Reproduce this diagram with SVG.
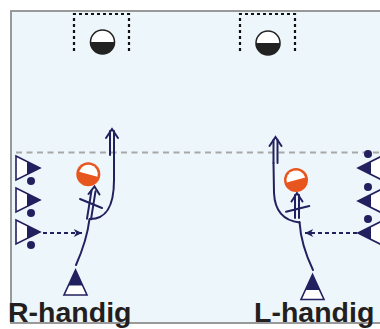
<svg xmlns="http://www.w3.org/2000/svg" xmlns:xlink="http://www.w3.org/1999/xlink" width="380" height="329" viewBox="0 0 380 329">
<style>
.field{fill:#edf6fa;stroke:#999999;stroke-width:2}
.mid{stroke:#a8a8a8;stroke-width:2;stroke-dasharray:6,4.5;fill:none}
.goalbox{fill:none;stroke:#111;stroke-width:2.2;stroke-dasharray:3,3}
.line{fill:none;stroke:#23205f;stroke-width:2;stroke-linecap:round}
.dash{fill:none;stroke:#23205f;stroke-width:2;stroke-dasharray:4,3}
.navy{fill:#23205f}
.pl{fill:#fff;stroke:#23205f;stroke-width:1.6;stroke-linejoin:miter}
.lbl{font-family:"Liberation Sans",Arial,sans-serif;font-weight:bold;font-size:28.5px;fill:#231f20}
</style>
<defs>
<g id="goalSym">
<circle r="12" fill="#fff" stroke="#222" stroke-width="1.6"/>
<path d="M-12,0 A12,12 0 0 0 12,0 Z" fill="#222"/>
</g>
<g id="pRight">
<polygon class="pl" points="-24,-12 0,0 -24,12"/>
<polygon class="navy" points="-13,-6.5 0,0 -13,6.5"/>
<circle class="navy" cx="-9" cy="13" r="4"/>
</g>
<g id="pLeft">
<polygon class="pl" points="24,-12 0,0 24,12"/>
<polygon class="navy" points="13,-6.5 0,0 13,6.5"/>
<circle class="navy" cx="10" cy="-14" r="4"/>
</g>
<g id="pUp">
<polygon class="pl" points="0,0 -11.5,25 11.5,25"/>
<polygon class="navy" points="0,0 -7.1,15.5 7.1,15.5"/>
</g>
<marker id="ah" viewBox="-10 -5 11 10" refX="0" refY="0" markerWidth="10" markerHeight="10" markerUnits="userSpaceOnUse" orient="auto">
<path d="M0,0 L-9,-4.5 L-6.5,0 L-9,4.5 Z" fill="#23205f"/>
</marker>
</defs>

<rect class="field" x="11" y="11" width="380" height="312"/>
<line class="mid" x1="16" y1="152.5" x2="380" y2="152.5"/>

<g id="goal-left">
<path class="goalbox" d="M74,51 V14 H129 V51"/>
<use xlink:href="#goalSym" href="#goalSym" x="102.5" y="42"/>
</g>
<g id="goal-right">
<path class="goalbox" d="M240,51 V14 H295 V51"/>
<use xlink:href="#goalSym" href="#goalSym" x="268" y="43"/>
</g>

<g id="connectors">
<!-- left side -->
<line class="dash" x1="43" y1="233" x2="82" y2="233" marker-end="url(#ah)"/>
<path class="line" d="M76,265 Q87,240 89.5,219"/>
<path class="line" d="M90,219 C104,219 114,210 114,180 L114,155"/>
<line class="line" x1="110" y1="155" x2="110" y2="131"/>
<line class="line" x1="114" y1="155" x2="114" y2="131"/>
<polyline class="line" points="106,138 112,129 118,138"/>
<line class="line" x1="87" y1="218.7" x2="91.5" y2="190.7"/>
<line class="line" x1="91" y1="219.3" x2="95.5" y2="191.3"/>
<polyline class="line" points="88.5,194 94.5,186.5 99.5,194.5"/>
<line class="line" x1="80" y1="199" x2="102" y2="208"/>
<!-- right side -->
<line class="dash" x1="357" y1="233" x2="305" y2="233" marker-end="url(#ah)"/>
<path class="line" d="M313,270 Q301,245 299.5,222"/>
<path class="line" d="M299.5,222.5 C286,221 275,214 274,193 L273.5,163"/>
<line class="line" x1="273.5" y1="163" x2="273.5" y2="140"/>
<line class="line" x1="277.5" y1="163" x2="277.5" y2="140"/>
<polyline class="line" points="269.5,146 275.5,137 281.5,146"/>
<line class="line" x1="295" y1="218" x2="295" y2="195"/>
<line class="line" x1="299" y1="218" x2="299" y2="195"/>
<polyline class="line" points="291.5,201.5 297,193 302.5,201.5"/>
<line class="line" x1="286" y1="211.7" x2="309.3" y2="206"/>
</g>

<g id="ball-left" transform="translate(88.3,174.3)">
<circle r="12" fill="#e8561f"/>
<path d="M-9.5,0 A9.5,9.5 0 0 1 9.5,0 Z" fill="#fff" transform="rotate(15)"/>
</g>
<g id="ball-right" transform="translate(296,180)">
<circle r="12" fill="#e8561f"/>
<path d="M-9.5,0 A9.5,9.5 0 0 1 9.5,0 Z" fill="#fff" transform="rotate(-15)"/>
</g>

<g id="players-left">
<use xlink:href="#pRight" href="#pRight" x="40" y="168"/>
<use xlink:href="#pRight" href="#pRight" x="40" y="200"/>
<use xlink:href="#pRight" href="#pRight" x="40" y="232"/>
</g>
<g id="players-right">
<use xlink:href="#pLeft" href="#pLeft" x="358" y="168"/>
<use xlink:href="#pLeft" href="#pLeft" x="358" y="201"/>
<use xlink:href="#pLeft" href="#pLeft" x="358" y="233"/>
</g>
<g id="player-bottom-left"><use xlink:href="#pUp" href="#pUp" x="75.5" y="270"/></g>
<g id="player-bottom-right"><use xlink:href="#pUp" href="#pUp" x="312.5" y="274.5"/></g>

<text class="lbl" x="8" y="322">R-handig</text>
<text class="lbl" x="254" y="322">L-handig</text>
</svg>
